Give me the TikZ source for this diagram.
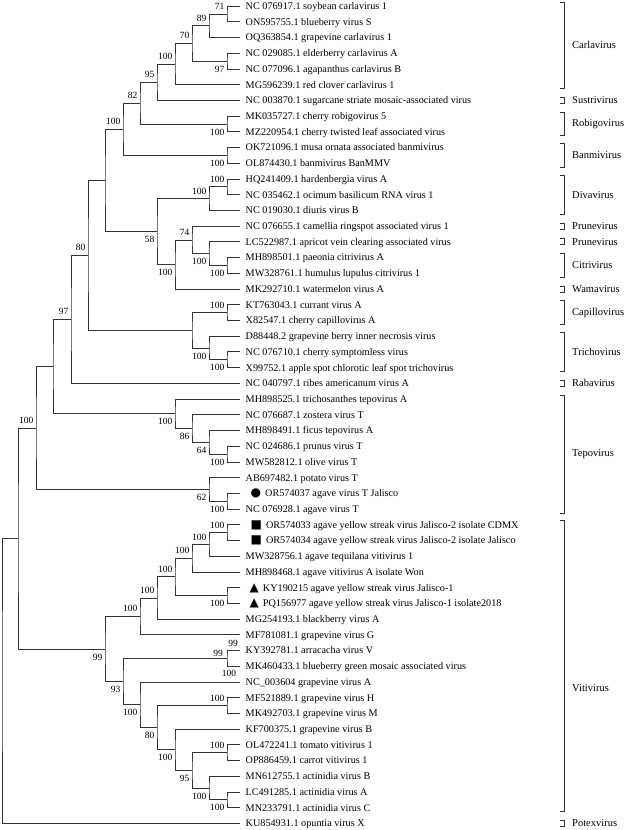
\documentclass[tikz,border=0pt]{standalone}
\usepackage{fontspec}
\setmainfont{Liberation Serif}
\newfontfamily\glyphfont{DejaVu Sans}
\newcommand{\dotmark}{\hspace{5pt}{\glyphfont\fontsize{12}{12}\selectfont ●}\hspace{4pt}}
\newcommand{\sqmark}{\hspace{5pt}{\glyphfont\fontsize{12}{12}\selectfont ■}\hspace{4pt}}
\newcommand{\trimark}{\hspace{4pt}{\glyphfont\fontsize{12}{12}\selectfont ▲}\hspace{4pt}}

\begin{document}
\begin{tikzpicture}[x=1pt, y=-1pt,
    leaf/.style={anchor=west, inner xsep=5.5pt, inner ysep=0pt, text height=6.8pt, text depth=0pt, font=\fontsize{10.2}{11}\selectfont},
    bsa/.style={anchor=east, inner sep=0.5pt, xshift=-2pt, yshift=7.5pt, font=\fontsize{9.5}{9.5}\selectfont},
    bsb/.style={anchor=east, inner sep=0.5pt, xshift=-2pt, yshift=-8pt, font=\fontsize{9.5}{9.5}\selectfont},
    bs/.style={inner sep=0.5pt, font=\fontsize{9.5}{9.5}\selectfont},
    branch/.style={draw=black!80, line width=0.8pt},
    genus/.style={anchor=west, inner sep=0pt, font=\fontsize{10.5}{10.5}\selectfont},
    brack/.style={draw=black!80, line width=0.8pt}]

    \useasboundingbox (0,0) rectangle (626,830);

    % leaves
    \node[leaf] (l1) at (240,6.0) {NC 076917.1 soybean carlavirus 1};
    \node[leaf] (l2) at (240,21.7) {ON595755.1 blueberry virus S};
    \node[leaf] (l3) at (240,37.4) {OQ363854.1 grapevine carlavirus 1};
    \node[leaf] (l4) at (240,53.2) {NC 029085.1 elderberry carlavirus A};
    \node[leaf] (l5) at (240,68.9) {NC 077096.1 agapanthus carlavirus B};
    \node[leaf] (l6) at (240,84.6) {MG596239.1 red clover carlavirus 1};
    \node[leaf] (l7) at (240,100.3) {NC 003870.1 sugarcane striate mosaic-associated virus};
    \node[leaf] (l8) at (240,116.0) {MK035727.1 cherry robigovirus 5};
    \node[leaf] (l9) at (240,131.8) {MZ220954.1 cherry twisted leaf associated virus};
    \node[leaf] (l10) at (240,147.5) {OK721096.1 musa ornata associated banmivirus};
    \node[leaf] (l11) at (240,163.2) {OL874430.1 banmivirus BanMMV};
    \node[leaf] (l12) at (240,178.9) {HQ241409.1 hardenbergia virus A};
    \node[leaf] (l13) at (240,194.6) {NC 035462.1 ocimum basilicum RNA virus 1};
    \node[leaf] (l14) at (240,210.4) {NC 019030.1 diuris virus B};
    \node[leaf] (l15) at (240,226.1) {NC 076655.1 camellia ringspot associated virus 1};
    \node[leaf] (l16) at (240,241.8) {LC522987.1 apricot vein clearing associated virus};
    \node[leaf] (l17) at (240,257.5) {MH898501.1 paeonia citrivirus A};
    \node[leaf] (l18) at (240,273.2) {MW328761.1 humulus lupulus citrivirus 1};
    \node[leaf] (l19) at (240,289.0) {MK292710.1 watermelon virus A};
    \node[leaf] (l20) at (240,304.7) {KT763043.1 currant virus A};
    \node[leaf] (l21) at (240,320.4) {X82547.1 cherry capillovirus A};
    \node[leaf] (l22) at (240,336.1) {D88448.2 grapevine berry inner necrosis virus};
    \node[leaf] (l23) at (240,351.8) {NC 076710.1 cherry symptomless virus};
    \node[leaf] (l24) at (240,367.6) {X99752.1 apple spot chlorotic leaf spot trichovirus};
    \node[leaf] (l25) at (240,383.3) {NC 040797.1 ribes americanum virus A};
    \node[leaf] (l26) at (240,399.0) {MH898525.1 trichosanthes tepovirus A};
    \node[leaf] (l27) at (240,414.7) {NC 076687.1 zostera virus T};
    \node[leaf] (l28) at (240,430.4) {MH898491.1 ficus tepovirus A};
    \node[leaf] (l29) at (240,446.1) {NC 024686.1 prunus virus T};
    \node[leaf] (l30) at (240,461.9) {MW582812.1 olive virus T};
    \node[leaf] (l31) at (240,477.6) {AB697482.1 potato virus T};
    \node[leaf] (l32) at (240,493.3) {\dotmark OR574037 agave virus T Jalisco};
    \node[leaf] (l33) at (240,509.0) {NC 076928.1 agave virus T};
    \node[leaf] (l34) at (240,524.7) {\sqmark OR574033 agave yellow streak virus Jalisco-2 isolate CDMX};
    \node[leaf] (l35) at (240,540.4) {\sqmark OR574034 agave yellow streak virus Jalisco-2 isolate Jalisco};
    \node[leaf] (l36) at (240,556.2) {MW328756.1 agave tequilana vitivirus 1};
    \node[leaf] (l37) at (240,571.9) {MH898468.1 agave vitivirus A isolate Won};
    \node[leaf] (l38) at (240,587.6) {\trimark KY190215 agave yellow streak virus Jalisco-1};
    \node[leaf] (l39) at (240,603.3) {\trimark PQ156977 agave yellow streak virus Jalisco-1 isolate2018};
    \node[leaf] (l40) at (240,619.0) {MG254193.1 blackberry virus A};
    \node[leaf] (l41) at (240,634.7) {MF781081.1 grapevine virus G};
    \node[leaf] (l42) at (240,650.4) {KY392781.1 arracacha virus V};
    \node[leaf] (l43) at (240,666.2) {MK460433.1 blueberry green mosaic associated virus};
    \node[leaf] (l44) at (240,681.9) {NC\_003604 grapevine virus A};
    \node[leaf] (l45) at (240,697.6) {MF521889.1 grapevine virus H};
    \node[leaf] (l46) at (240,713.3) {MK492703.1 grapevine virus M};
    \node[leaf] (l47) at (240,729.0) {KF700375.1 grapevine virus B};
    \node[leaf] (l48) at (240,744.7) {OL472241.1 tomato vitivirus 1};
    \node[leaf] (l49) at (240,760.4) {OP886459.1 carrot vitivirus 1};
    \node[leaf] (l50) at (240,776.2) {MN612755.1 actinidia virus B};
    \node[leaf] (l51) at (240,791.9) {LC491285.1 actinidia virus A};
    \node[leaf] (l52) at (240,807.6) {MN233791.1 actinidia virus C};
    \node[leaf] (l53) at (240,823.3) {KU854931.1 opuntia virus X};

    % carlavirus to divavirus
    \coordinate (A) at (227,13.9);
    \coordinate (B) at (209,25.6);
    \coordinate (C) at (227,61.0);
    \coordinate (D) at (192,43.3);
    \coordinate (E) at (175,64.0);
    \coordinate (F) at (157,82.1);
    \coordinate (G) at (227,123.9);
    \coordinate (H) at (140,103.0);
    \coordinate (I) at (227,155.4);
    \coordinate (J) at (123,129.2);
    \coordinate (K) at (227,186.8);
    \coordinate (L) at (209,198.6);
    \coordinate (Q) at (227,265.4);
    \coordinate (R) at (209,253.6);
    \coordinate (P) at (192,239.9);
    \coordinate (N) at (175,264.4);
    \coordinate (M) at (157,231.5);
    \coordinate (O) at (105,180.4);
    \coordinate (S1) at (227,312.5);
    \coordinate (S2) at (227,359.7);
    \coordinate (S3) at (209,347.9);
    \coordinate (S) at (192,330.2);
    \coordinate (U) at (88,255.3);
    \coordinate (T) at (71,319.3);
    % tepovirus
    \coordinate (W4) at (227,454.0);
    \coordinate (W3) at (209,442.2);
    \coordinate (W2) at (192,428.5);
    \coordinate (W) at (175,413.7);
    \coordinate (V) at (53,366.5);
    \coordinate (X1) at (227,501.2);
    \coordinate (X) at (209,489.4);
    \coordinate (Y) at (36,428.0);
    % vitivirus
    \coordinate (a1) at (227,532.6);
    \coordinate (a2) at (209,544.4);
    \coordinate (a3) at (192,558.1);
    \coordinate (a4) at (227,595.5);
    \coordinate (a5) at (175,576.8);
    \coordinate (a6) at (157,597.9);
    \coordinate (a7) at (140,616.3);
    \coordinate (b2) at (227,658.3);
    \coordinate (b5) at (227,705.5);
    \coordinate (b6) at (227,752.6);
    \coordinate (b7) at (227,799.8);
    \coordinate (b8) at (209,788.0);
    \coordinate (b9) at (192,770.3);
    \coordinate (b10) at (175,749.7);
    \coordinate (b4) at (157,727.6);
    \coordinate (b3) at (140,704.8);
    \coordinate (b1) at (123,681.5);
    \coordinate (VV) at (105,648.9);
    \coordinate (R2) at (18,538.5);
    \coordinate (root) at (2,680.9);

    \draw[branch] (l1.west) -| (A) |- (l2.west);
    \draw[branch] (A) -| (B) |- (l3.west);
    \draw[branch] (l4.west) -| (C) |- (l5.west);
    \draw[branch] (B) -| (D) |- (C);
    \draw[branch] (D) -| (E) |- (l6.west);
    \draw[branch] (E) -| (F) |- (l7.west);
    \draw[branch] (l8.west) -| (G) |- (l9.west);
    \draw[branch] (F) -| (H) |- (G);
    \draw[branch] (l10.west) -| (I) |- (l11.west);
    \draw[branch] (H) -| (J) |- (I);
    \draw[branch] (l12.west) -| (K) |- (l13.west);
    \draw[branch] (K) -| (L) |- (l14.west);
    \draw[branch] (l17.west) -| (Q) |- (l18.west);
    \draw[branch] (l16.west) -| (R) |- (Q);
    \draw[branch] (l15.west) -| (P) |- (R);
    \draw[branch] (P) -| (N) |- (l19.west);
    \draw[branch] (L) -| (M) |- (N);
    \draw[branch] (J) -| (O) |- (M);
    \draw[branch] (l20.west) -| (S1) |- (l21.west);
    \draw[branch] (l23.west) -| (S2) |- (l24.west);
    \draw[branch] (l22.west) -| (S3) |- (S2);
    \draw[branch] (S1) -| (S) |- (S3);
    \draw[branch] (O) -| (U) |- (S);
    \draw[branch] (U) -| (T) |- (l25.west);
    \draw[branch] (l29.west) -| (W4) |- (l30.west);
    \draw[branch] (l28.west) -| (W3) |- (W4);
    \draw[branch] (l27.west) -| (W2) |- (W3);
    \draw[branch] (l26.west) -| (W) |- (W2);
    \draw[branch] (T) -| (V) |- (W);
    \draw[branch] (l32.west) -| (X1) |- (l33.west);
    \draw[branch] (l31.west) -| (X) |- (X1);
    \draw[branch] (V) -| (Y) |- (X);
    \draw[branch] (l34.west) -| (a1) |- (l35.west);
    \draw[branch] (a1) -| (a2) |- (l36.west);
    \draw[branch] (a2) -| (a3) |- (l37.west);
    \draw[branch] (l38.west) -| (a4) |- (l39.west);
    \draw[branch] (a3) -| (a5) |- (a4);
    \draw[branch] (a5) -| (a6) |- (l40.west);
    \draw[branch] (a6) -| (a7) |- (l41.west);
    \draw[branch] (l42.west) -| (b2) |- (l43.west);
    \draw[branch] (l45.west) -| (b5) |- (l46.west);
    \draw[branch] (l48.west) -| (b6) |- (l49.west);
    \draw[branch] (l51.west) -| (b7) |- (l52.west);
    \draw[branch] (l50.west) -| (b8) |- (b7);
    \draw[branch] (b6) -| (b9) |- (b8);
    \draw[branch] (l47.west) -| (b10) |- (b9);
    \draw[branch] (b5) -| (b4) |- (b10);
    \draw[branch] (l44.west) -| (b3) |- (b4);
    \draw[branch] (b2) -| (b1) |- (b3);
    \draw[branch] (a7) -| (VV) |- (b1);
    \draw[branch] (Y) -| (R2) |- (VV);
    \draw[branch] (R2) -| (root) |- (l53.west);

    % bootstrap values
    \node[bsa] (vA) at (A) {71};
    \node[bsa] (vB) at (B) {89};
    \node[bsb] (vC) at (C) {97};
    \node[bsa] (vD) at (D) {70};
    \node[bsa] (vE) at (E) {100};
    \node[bsa] (vF) at (F) {95};
    \node[bsb] (vG) at (G) {100};
    \node[bsa] (vH) at (H) {82};
    \node[bsb] (vI) at (I) {100};
    \node[bsa] (vJ) at (J) {100};
    \node[bsa] (vK) at (K) {100};
    \node[bsa] (vL) at (L) {100};
    \node[bsb] (vQ) at (Q) {100};
    \node[bsb] (vR) at (R) {100};
    \node[bsa] (vP) at (P) {74};
    \node[bsb] (vN) at (N) {100};
    \node[bsb] (vM) at (M) {58};
    \node[bsa] (vS1) at (S1) {100};
    \node[bsb] (vS2) at (S2) {100};
    \node[bsb] (vS3) at (S3) {100};
    \node[bsa] (vU) at (U) {80};
    \node[bsa] (vT) at (T) {97};
    \node[bsb] (vW4) at (W4) {100};
    \node[bsb] (vW3) at (W3) {64};
    \node[bsb] (vW2) at (W2) {86};
    \node[bsb] (vW) at (W) {100};
    \node[bsb] (vX1) at (X1) {100};
    \node[bsb] (vX) at (X) {62};
    \node[bsa] (vY) at (Y) {100};
    \node[bsa] (va1) at (a1) {100};
    \node[bsa] (va2) at (a2) {100};
    \node[bsa] (va3) at (a3) {100};
    \node[bsb] (va4) at (a4) {100};
    \node[bsa] (va5) at (a5) {100};
    \node[bsa] (va6) at (a6) {100};
    \node[bsa] (va7) at (a7) {100};
    \node[bs] (vb2a) at (233,643) {99};
    \node[bs] (vb2b) at (218,653) {99};
    \node[bs] (vb2c) at (229,673) {100};
    \node[bsa] (vb5) at (b5) {100};
    \node[bsa] (vb6) at (b6) {100};
    \node[bsb] (vb7) at (b7) {100};
    \node[bsb] (vb8) at (b8) {100};
    \node[bsb] (vb9) at (b9) {95};
    \node[bsb] (vb10) at (b10) {100};
    \node[bsb] (vb4) at (b4) {80};
    \node[bsb] (vb3) at (b3) {100};
    \node[bsb] (vb1) at (b1) {93};
    \node[bsb] (vVV) at (VV) {99};

    % genus brackets
    \draw[brack] (560,2) -- (564,2) -- (564,88.6) -- (560,88.6);
    \node[genus] (g1) at (572,45.3) {Carlavirus};
    \draw[brack] (560,97.3) -- (564,97.3) -- (564,103.3) -- (560,103.3);
    \node[genus] (g2) at (572,100.3) {Sustrivirus};
    \draw[brack] (560,112) -- (564,112) -- (564,135.8) -- (560,135.8);
    \node[genus] (g3) at (572,123.9) {Robigovirus};
    \draw[brack] (560,143.5) -- (564,143.5) -- (564,167.2) -- (560,167.2);
    \node[genus] (g4) at (572,155.4) {Banmivirus};
    \draw[brack] (560,174.9) -- (564,174.9) -- (564,214.4) -- (560,214.4);
    \node[genus] (g5) at (572,194.6) {Divavirus};
    \draw[brack] (560,223.1) -- (564,223.1) -- (564,229.1) -- (560,229.1);
    \node[genus] (g6) at (572,226.1) {Prunevirus};
    \draw[brack] (560,238.8) -- (564,238.8) -- (564,244.8) -- (560,244.8);
    \node[genus] (g7) at (572,241.8) {Prunevirus};
    \draw[brack] (560,253.5) -- (564,253.5) -- (564,277.2) -- (560,277.2);
    \node[genus] (g8) at (572,265.4) {Citrivirus};
    \draw[brack] (560,286) -- (564,286) -- (564,292) -- (560,292);
    \node[genus] (g9) at (572,289.0) {Wamavirus};
    \draw[brack] (560,300.7) -- (564,300.7) -- (564,324.4) -- (560,324.4);
    \node[genus] (g10) at (572,312.5) {Capillovirus};
    \draw[brack] (560,332.1) -- (564,332.1) -- (564,371.6) -- (560,371.6);
    \node[genus] (g11) at (572,351.8) {Trichovirus};
    \draw[brack] (560,380.3) -- (564,380.3) -- (564,386.3) -- (560,386.3);
    \node[genus] (g12) at (572,383.3) {Rabavirus};
    \draw[brack] (560,395) -- (564,395) -- (564,513) -- (560,513);
    \node[genus] (g13) at (572,454.0) {Tepovirus};
    \draw[brack] (560,520.7) -- (564,520.7) -- (564,811.6) -- (560,811.6);
    \node[genus] (g14) at (572,688.0) {Vitivirus};
    \draw[brack] (560,820.3) -- (564,820.3) -- (564,826.3) -- (560,826.3);
    \node[genus] (g15) at (572,823.3) {Potexvirus};

\end{tikzpicture}
\end{document}
